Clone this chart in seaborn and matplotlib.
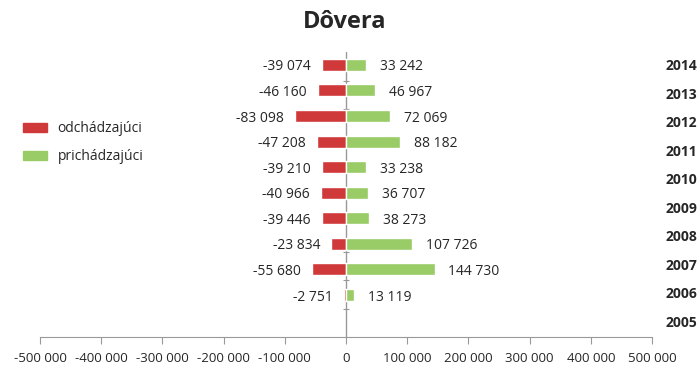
import pandas as pd
import matplotlib.pyplot as plt
import seaborn as sns
from matplotlib.patches import Patch
from matplotlib.transforms import blended_transform_factory

# data (top to bottom)
years = ["2014", "2013", "2012", "2011", "2010", "2009", "2008", "2007", "2006", "2005"]
odchadzajuci = [-39074, -46160, -83098, -47208, -39210, -40966, -39446, -23834, -55680, -2751]
prichadzajuci = [33242, 46967, 72069, 88182, 33238, 36707, 38273, 107726, 144730, 13119]
series_names = ["odchádzajúci", "prichádzajúci"]
ticks = [-500000, -400000, -300000, -200000, -100000, 0, 100000, 200000, 300000, 400000, 500000]

red = "#d0393a"
green = "#99cc66"

df = pd.DataFrame({
    "rok": years * 2,
    "hodnota": odchadzajuci + prichadzajuci,
    "smer": [series_names[0]] * len(years) + [series_names[1]] * len(years),
})

sns.set_style("white")
plt.rcParams["font.family"] = ["Open Sans", "DejaVu Sans"]

fig = plt.figure(figsize=(7, 3.82), dpi=100)
ax = fig.add_axes([40 / 700, 45 / 382, 612 / 700, 285 / 382])

sns.barplot(data=df, x="hodnota", y="rok", hue="smer", order=years,
            hue_order=series_names, palette=[red, green], dodge=False,
            orient="h", width=0.47, legend=False, ax=ax, saturation=1)

ax.set_xlim(-500000, 500000)
ax.set_ylim(len(years) - 1 + 1.64, -0.5)
ax.set_xticks(ticks)
ax.set_xticklabels([f"{t:,}".replace(",", " ") for t in ticks], fontsize=9.5)
ax.set_yticks([])
ax.set_xlabel("")
ax.set_ylabel("")
for s in ["top", "right", "left"]:
    ax.spines[s].set_visible(False)
ax.spines["bottom"].set_color("#999999")
ax.tick_params(axis="x", bottom=True, direction="out", length=5, color="#999999", pad=6)
ax.axvline(0, color="#999999", lw=1, zorder=0)

# tiny category ticks on the zero line
zero_trans = blended_transform_factory(ax.transData, ax.transAxes)
ax.plot([0] * (len(years) - 1), [k / len(years) for k in range(1, len(years))],
        ls="none", marker="_", ms=4, mew=0.8, color="#999999", transform=zero_trans, zorder=0)

# value labels
for i, (o, p) in enumerate(zip(odchadzajuci, prichadzajuci)):
    ax.annotate(f"{o:,}".replace(",", " "), (o, i), xytext=(-8, -1.5), textcoords="offset points",
                ha="right", va="center", fontsize=10)
    ax.annotate(f"{p:,}".replace(",", " "), (p, i), xytext=(10, -1.5), textcoords="offset points",
                ha="left", va="center", fontsize=10)

# year labels on the right, spread over the full axis height
trans = blended_transform_factory(fig.transFigure, ax.transAxes)
for i, y in enumerate(years):
    ax.text(697 / 700, 1 - (i + 0.5) / len(years), y, transform=trans, ha="right", va="center",
            fontsize=10, fontweight="bold")

fig.suptitle("Dôvera", x=345 / 700, y=0.975, fontsize=17, fontweight="bold")

handles = [Patch(color=red), Patch(color=green)]
fig.legend(handles, series_names, loc="upper left", bbox_to_anchor=(0.015, 1 - 109 / 382),
           frameon=False, fontsize=10, handlelength=1.7, handleheight=0.6,
           labelspacing=0.9, handletextpad=0.8)

fig.savefig("out.png", dpi=100)
